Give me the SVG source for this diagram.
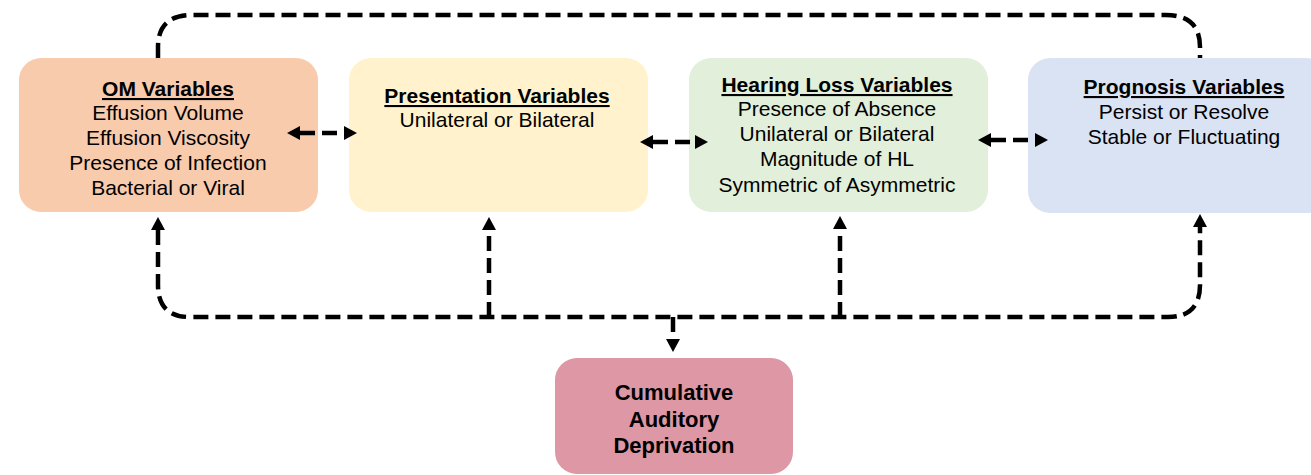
<svg xmlns="http://www.w3.org/2000/svg" width="1311" height="475" viewBox="0 0 1311 475">
<defs>
<marker id="ah" markerUnits="userSpaceOnUse" markerWidth="14" markerHeight="14" refX="0" refY="7" orient="auto-start-reverse" viewBox="0 0 14 14">
<path d="M0,0 L13,7 L0,14 z" fill="#000"/>
</marker>
<style>
.box{stroke:none}
.t{font-family:"Liberation Sans",Arial,sans-serif;font-size:21px;fill:#000;text-anchor:middle}
.h{font-weight:bold;text-decoration:underline}
.b{font-weight:bold;font-size:22px}
.c{fill:none;stroke:#000;stroke-width:4.5;stroke-dasharray:15 7}
.ca{marker-start:url(#ah);marker-end:url(#ah)}
.ce{marker-end:url(#ah)}
</style>
</defs>
<rect width="1311" height="475" fill="#fff"/>
<g id="om">
<rect class="box" x="19" y="58" width="299" height="154" rx="22" fill="#f8cbad"/>
<text class="t h" x="168" y="96">OM Variables</text>
<text class="t" x="168" y="120">Effusion Volume</text>
<text class="t" x="168" y="145">Effusion Viscosity</text>
<text class="t" x="168" y="170">Presence of Infection</text>
<text class="t" x="168" y="195">Bacterial or Viral</text>
</g>
<g id="presentation">
<rect class="box" x="349" y="58" width="299" height="154" rx="22" fill="#fff2cc"/>
<text class="t h" x="497" y="103">Presentation Variables</text>
<text class="t" x="497" y="127">Unilateral or Bilateral</text>
</g>
<g id="hearing">
<rect class="box" x="689" y="58" width="299" height="154" rx="22" fill="#e2efda"/>
<text class="t h" x="837" y="92">Hearing Loss Variables</text>
<text class="t" x="837" y="116">Presence of Absence</text>
<text class="t" x="837" y="141">Unilateral or Bilateral</text>
<text class="t" x="837" y="166">Magnitude of HL</text>
<text class="t" x="837" y="192">Symmetric of Asymmetric</text>
</g>
<g id="prognosis">
<rect class="box" x="1028" y="58" width="300" height="155" rx="22" fill="#dae3f3"/>
<text class="t h" x="1184" y="94">Prognosis Variables</text>
<text class="t" x="1184" y="119">Persist or Resolve</text>
<text class="t" x="1184" y="144">Stable or Fluctuating</text>
</g>
<g id="cumulative">
<rect class="box" x="555" y="358" width="238" height="116" rx="22" fill="#dd97a5"/>
<text class="t b" x="674" y="400">Cumulative</text>
<text class="t b" x="674" y="427">Auditory</text>
<text class="t b" x="674" y="453">Deprivation</text>
</g>
<g id="connectors">
<path class="c" d="M158,58 V47 Q158,15 192,15 H1166 Q1200,15 1200,47 V58"/>
<path class="c ca" d="M158,230 V285 Q158,317 190,317 H1168 Q1200,317 1200,285 V227"/>
<path class="c ce" d="M489,317 V230"/>
<path class="c ce" d="M840,317 V229"/>
<path class="c ce" d="M673,317 V339"/>
<path class="c ca" d="M300,133 H344"/>
<path class="c ca" d="M653,142 H695"/>
<path class="c ca" d="M991,140 H1035"/>
</g>
</svg>
